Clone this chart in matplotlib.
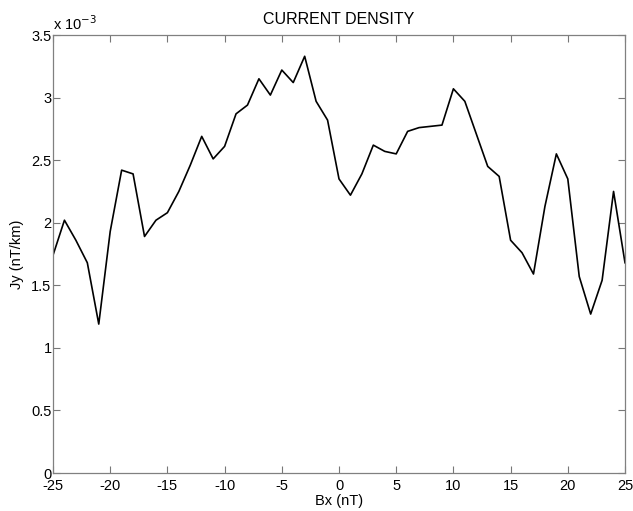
import matplotlib
matplotlib.use("Agg")
import matplotlib.pyplot as plt
from matplotlib.ticker import FuncFormatter

# Bx sweep in nT and current density in units of 1e-3 nT/km
bx = list(range(-25, 26))
jy = [1.74, 2.02, 1.86, 1.68, 1.19, 1.93, 2.42, 2.39, 1.89, 2.02,
      2.08, 2.25, 2.46, 2.69, 2.51, 2.61, 2.87, 2.94, 3.15, 3.02,
      3.22, 3.12, 3.33, 2.97, 2.82, 2.35, 2.22, 2.39, 2.62, 2.57,
      2.55, 2.73, 2.76, 2.77, 2.78, 3.07, 2.97, 2.71, 2.45, 2.37,
      1.86, 1.76, 1.59, 2.13, 2.55, 2.35, 1.57, 1.27, 1.54, 2.25,
      1.68]
xticks = [-25, -20, -15, -10, -5, 0, 5, 10, 15, 20, 25]
yticks = [0, 0.5, 1, 1.5, 2, 2.5, 3, 3.5]

plt.rcParams["font.family"] = ["Liberation Sans", "DejaVu Sans"]
plt.rcParams["font.size"] = 10.5
plt.rcParams["axes.unicode_minus"] = False

fig = plt.figure(figsize=(6.33, 5.11), dpi=100)
ax = fig.add_axes([53 / 633, 38 / 511, 572 / 633, 438 / 511])

ax.plot(bx, jy, color="black", linewidth=1.2)

ax.set_xlim(-25, 25)
ax.set_ylim(0, 3.5)
ax.set_xticks(xticks)
ax.set_yticks(yticks)
ax.yaxis.set_major_formatter(FuncFormatter(lambda v, p: f"{v:g}"))
ax.tick_params(direction="in", top=True, right=True, length=5,
               width=0.8, color="#777777", labelsize=10.5, pad=1)
ax.tick_params(axis="x", pad=4)
for s in ax.spines.values():
    s.set_color("#808080")
    s.set_linewidth(0.9)

ax.text(0.0, 1.004, r"x 10$^{-3}$", transform=ax.transAxes,
        ha="left", va="bottom", fontsize=10.5)
ax.set_title("CURRENT DENSITY", fontsize=11.5, pad=8)
ax.set_xlabel("Bx (nT)", labelpad=1)
ax.set_ylabel("Jy (nT/km)", labelpad=5)

fig.savefig("out.png", dpi=100)
